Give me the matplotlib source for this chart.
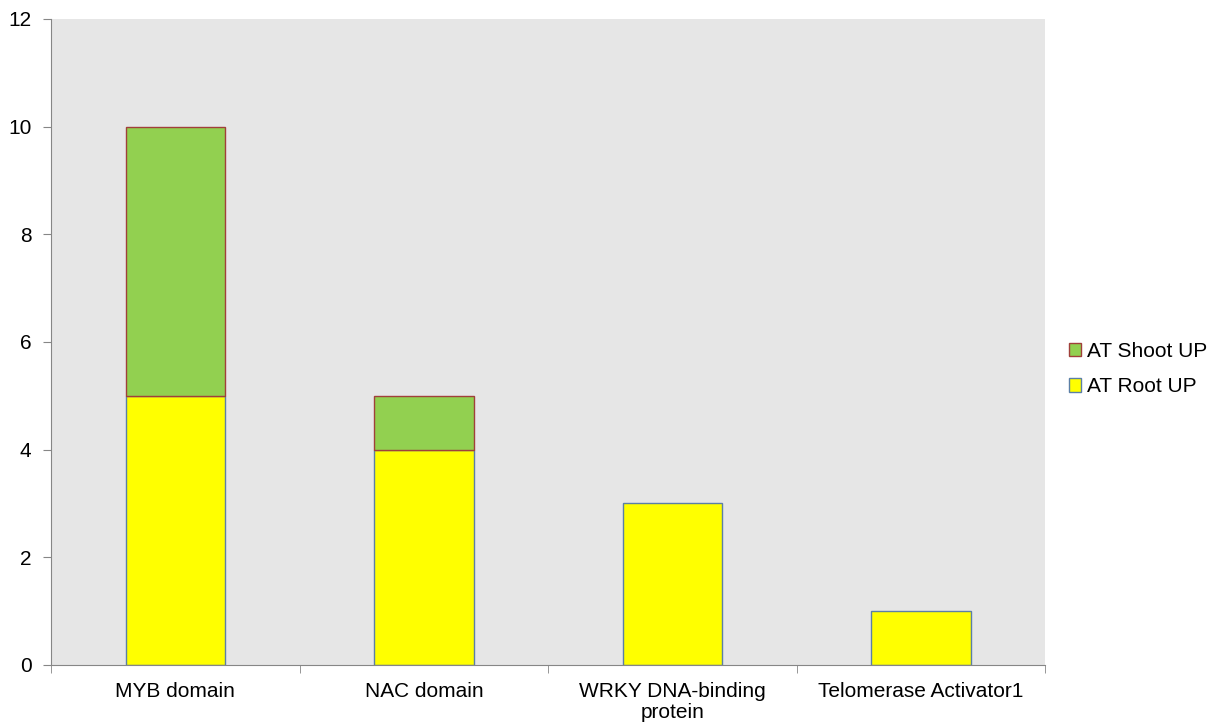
import numpy as np
import matplotlib.pyplot as plt

plt.rcParams['font.family'] = ['Liberation Sans', 'DejaVu Sans']

categories = ['MYB domain', 'NAC domain', 'WRKY DNA-binding\nprotein', 'Telomerase Activator1']
root_up = [5, 4, 3, 1]
shoot_up = [5, 1, 0, 0]

x = np.arange(len(categories))
width = 0.4

fig = plt.figure(figsize=(12.14, 7.25), dpi=100)
ax = fig.add_axes([0.042, 0.0828, 0.819, 0.891])
ax.set_facecolor('#e6e6e6')

ax.bar(x, root_up, width, color='#ffff00', edgecolor='#5b7fa6', linewidth=1,
       label='AT Root UP')
shoot_x = [xi for xi, s in zip(x, shoot_up) if s > 0]
shoot_vals = [s for s in shoot_up if s > 0]
shoot_bottom = [r for r, s in zip(root_up, shoot_up) if s > 0]
ax.bar(shoot_x, shoot_vals, width, bottom=shoot_bottom, color='#92d050',
       edgecolor='#a0403a', linewidth=1, label='AT Shoot UP')

ax.set_xlim(-0.5, len(categories) - 0.5)
ax.set_ylim(0, 12)
ax.set_yticks(range(0, 13, 2))
ax.set_xticks(x)
ax.set_xticklabels(categories, fontsize=15, linespacing=1.15)
ax.set_xticks(np.arange(-0.5, len(categories) + 0.5, 1), minor=True)
ax.tick_params(axis='x', which='major', length=0, pad=12)
ax.tick_params(axis='x', which='minor', length=6, color='#868686', direction='out')
ax.tick_params(axis='y', labelsize=15, length=6, color='#868686', direction='out', pad=8)

for side in ['top', 'right']:
    ax.spines[side].set_visible(False)
for side in ['left', 'bottom']:
    ax.spines[side].set_color('#868686')

handles, labels = ax.get_legend_handles_labels()
ax.legend(handles[::-1], labels[::-1], loc='center left', bbox_to_anchor=(1.005, 0.458),
          frameon=False, fontsize=15, handlelength=0.6, handleheight=0.6,
          handletextpad=0.25, labelspacing=0.8)

fig.savefig('out.png', dpi=100)
